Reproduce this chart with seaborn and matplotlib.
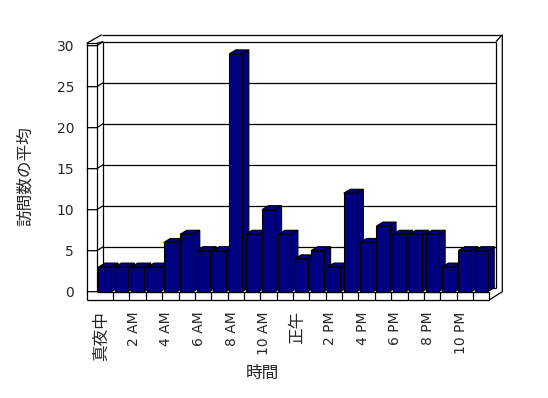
import numpy as np
import pandas as pd
import matplotlib
matplotlib.use("Agg")
import matplotlib.pyplot as plt
import matplotlib.transforms as mtransforms
from matplotlib.patches import Polygon
import seaborn as sns

# average visits per hour of day
hours = list(range(24))
visits = [3, 3, 3, 3, 6, 7, 5, 5, 29, 7, 10, 7,
          4, 5, 3, 12, 6, 8, 7, 7, 7, 3, 5, 5]
tick_pos = list(range(0, 24, 2))
tick_labels = ["真夜中", "2 AM", "4 AM", "6 AM", "8 AM", "10 AM",
               "正午", "2 PM", "4 PM", "6 PM", "8 PM", "10 PM"]
y_ticks = [0, 5, 10, 15, 20, 25, 30]

df = pd.DataFrame({"hour": hours, "visits": visits})

sns.set_style("white")
plt.rcParams['font.family'] = ['DejaVu Sans', 'Noto Sans CJK JP']

NAVY = "#000080"
# fake 3d depth (data units): front plane -> back wall
dx, dy = 0.40, 0.49
# outer edge of the back wall slab
ox, oy = 0.795, 1.34
# left wall thickness and floor thickness
lw_x = -1.11
fl_y = -1.0

fig = plt.figure(figsize=(5.48, 3.98), dpi=100)
ax = fig.add_axes([0.1765, 0.2671, 0.7164, 0.6181])

sns.barplot(data=df, x="hour", y="visits", color=NAVY, saturation=1,
            edgecolor="black", linewidth=0.8, width=0.8, ax=ax)

ax.set_xlim(-0.5, 23.5)
ax.set_ylim(0, 30)
for s in ax.spines.values():
    s.set_visible(False)
ax.set_facecolor("none")


def seg(xs, ys, z=1):
    ax.plot(xs, ys, color="black", lw=0.9, clip_on=False, zorder=z,
            solid_capstyle="butt")


# back wall gridlines + ticks across the left wall
for v in y_ticks:
    seg([-0.5 + dx, 23.5 + dx], [v + dy, v + dy])
    seg([lw_x, -0.5, -0.5 + dx], [v, v, v + dy])

# back wall inner edges
seg([-0.5 + dx, -0.5 + dx], [dy, 30 + dy])
seg([23.5 + dx, 23.5 + dx], [dy, 30 + dy])
# back wall outer slab
seg([-0.19, 23.5 + ox], [30 + oy, 30 + oy])
seg([23.5 + dx, 23.5 + ox], [30 + dy, 30 + oy])
seg([23.5 + ox, 23.5 + ox, 23.5], [30 + oy, 0, fl_y])
# left wall
seg([lw_x, lw_x], [fl_y, 30.3])
seg([-0.5, -0.5], [0, 30.3])
seg([lw_x, -0.5], [30.3, 30.3])
seg([lw_x, -0.19], [30.3, 30 + oy])
seg([-0.5, -0.5 + dx], [30.3, 30 + dy])
# floor
seg([lw_x, 23.5], [fl_y, fl_y])
seg([-0.5, 23.5], [0, 0])
seg([23.5, 23.5], [fl_y, 0])
for k in range(23):
    seg([k + 0.5, k + 0.5], [fl_y, 0])

# 3d sides and tops of the bars
for i, p in enumerate(ax.patches):
    x0 = p.get_x()
    x1 = x0 + p.get_width()
    h = p.get_height()
    z = 3 + 0.01 * i
    side = Polygon([(x1, 0), (x1 + dx, dy), (x1 + dx, h + dy), (x1, h)],
                   closed=True, facecolor=NAVY, edgecolor="black",
                   lw=0.8, zorder=z, clip_on=False)
    top = Polygon([(x0, h), (x1, h), (x1 + dx, h + dy), (x0 + dx, h + dy)],
                  closed=True, facecolor=NAVY, edgecolor="black",
                  lw=0.8, zorder=z, clip_on=False)
    ax.add_patch(side)
    ax.add_patch(top)
    p.set_zorder(z + 0.005)
    p.set_clip_on(False)

# ticks
ax.set_yticks(y_ticks)
ax.set_yticklabels([str(v) for v in y_ticks], fontsize=10)
ax.tick_params(axis="y", length=0, pad=16.3)
ax.set_xticks(tick_pos)
ax.set_xticklabels(tick_labels, rotation=90, fontsize=10)
ax.tick_params(axis="x", length=0, pad=14)
shift = mtransforms.ScaledTranslation(-4 / 100, 0, fig.dpi_scale_trans)
for lab in ax.get_xticklabels():
    lab.set_transform(lab.get_transform() + shift)
    if not lab.get_text().isascii():
        lab.set_fontsize(12)
ax.set_xlabel("")
ax.set_ylabel("")

fig.text(24.5 / 548, 1 - 175.8 / 398, "訪問数の平均", rotation=90,
         ha="center", va="center", fontsize=12)
fig.text(262.5 / 548, 1 - 372.5 / 398, "時間",
         ha="center", va="center", fontsize=12)

fig.savefig("out.png", dpi=100)
plt.close()
